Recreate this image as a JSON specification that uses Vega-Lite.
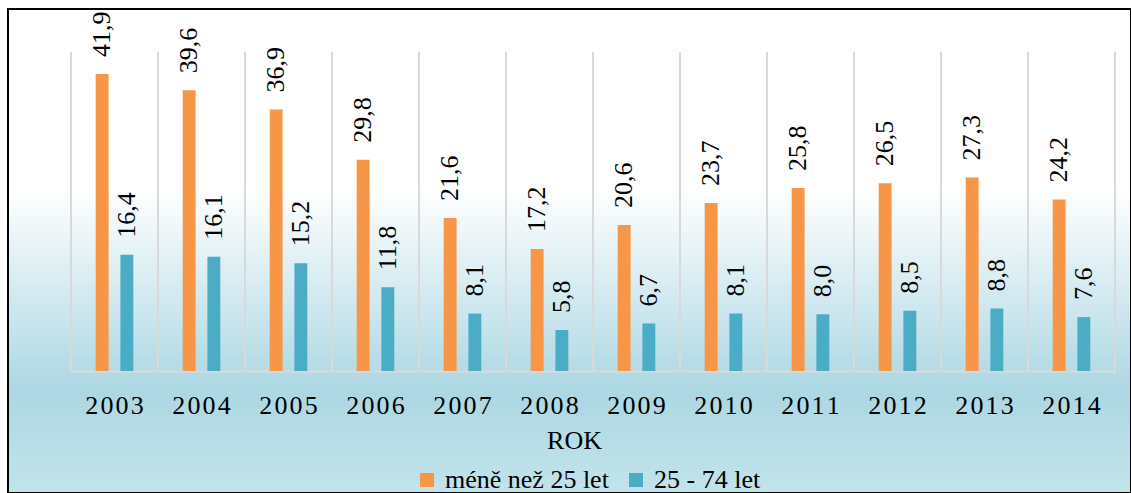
{
  "$schema": "https://vega.github.io/schema/vega-lite/v6.json",
  "width": 1123,
  "height": 484,
  "autosize": {"type": "none"},
  "padding": {"left": 8, "top": 9, "right": 0, "bottom": 0},
  "background": "#ffffff",
  "config": {
    "font": "'Liberation Serif', 'Times New Roman', serif",
    "view": {
      "stroke": "#000000", "strokeWidth": 2,
      "fill": {"gradient": "linear", "x1": 0, "y1": 0, "x2": 0, "y2": 1, "stops": [{"offset": 0, "color": "#ffffff"}, {"offset": 0.37, "color": "#ffffff"}, {"offset": 0.787, "color": "#acd7e3"}, {"offset": 1, "color": "#c2e4eb"}]}
    },
    "locale": {"number": {"decimal": ",", "thousands": " ", "grouping": [3], "currency": ["", ""]}}
  },
  "data": {"values": [
    {"rok": "2003", "skupina": "méně než 25 let", "hodnota": 41.9},
    {"rok": "2003", "skupina": "25 - 74 let", "hodnota": 16.4},
    {"rok": "2004", "skupina": "méně než 25 let", "hodnota": 39.6},
    {"rok": "2004", "skupina": "25 - 74 let", "hodnota": 16.1},
    {"rok": "2005", "skupina": "méně než 25 let", "hodnota": 36.9},
    {"rok": "2005", "skupina": "25 - 74 let", "hodnota": 15.2},
    {"rok": "2006", "skupina": "méně než 25 let", "hodnota": 29.8},
    {"rok": "2006", "skupina": "25 - 74 let", "hodnota": 11.8},
    {"rok": "2007", "skupina": "méně než 25 let", "hodnota": 21.6},
    {"rok": "2007", "skupina": "25 - 74 let", "hodnota": 8.1},
    {"rok": "2008", "skupina": "méně než 25 let", "hodnota": 17.2},
    {"rok": "2008", "skupina": "25 - 74 let", "hodnota": 5.8},
    {"rok": "2009", "skupina": "méně než 25 let", "hodnota": 20.6},
    {"rok": "2009", "skupina": "25 - 74 let", "hodnota": 6.7},
    {"rok": "2010", "skupina": "méně než 25 let", "hodnota": 23.7},
    {"rok": "2010", "skupina": "25 - 74 let", "hodnota": 8.1},
    {"rok": "2011", "skupina": "méně než 25 let", "hodnota": 25.8},
    {"rok": "2011", "skupina": "25 - 74 let", "hodnota": 8.0},
    {"rok": "2012", "skupina": "méně než 25 let", "hodnota": 26.5},
    {"rok": "2012", "skupina": "25 - 74 let", "hodnota": 8.5},
    {"rok": "2013", "skupina": "méně než 25 let", "hodnota": 27.3},
    {"rok": "2013", "skupina": "25 - 74 let", "hodnota": 8.8},
    {"rok": "2014", "skupina": "méně než 25 let", "hodnota": 24.2},
    {"rok": "2014", "skupina": "25 - 74 let", "hodnota": 7.6}
  ]},
  "encoding": {
    "x": {
      "field": "rok", "type": "nominal",
      "scale": {"paddingInner": 0, "paddingOuter": 0, "range": [63, 1107]},
      "axis": {
        "offset": -122,
        "grid": false,
        "ticks": false, "tickSize": 0,
        "domainColor": "#d9d9d9", "domainWidth": 2,
        "labelAngle": 0, "labelFont": "'Liberation Serif', 'Times New Roman', serif", "labelFontSize": 26, "labelColor": "#000000",
        "labelPadding": 21,
        "labelExpr": "join(split(datum.label, ''), '\u200a')",
        "title": "ROK", "titleFont": "'Liberation Serif', 'Times New Roman', serif", "titleFontSize": 26, "titleFontWeight": "normal", "titleColor": "#000000",
        "titleX": 566, "titleY": 77, "titleBaseline": "alphabetic", "titleAlign": "center"
      }
    },
    "y": {
      "field": "hodnota", "type": "quantitative",
      "scale": {"domain": [0, 45], "nice": false, "range": [362, 43]},
      "axis": null
    }
  },
  "layer": [
    {
      "mark": {"type": "rule", "color": "#d9d9d9", "strokeWidth": 2},
      "encoding": {
        "x": {"field": "rok", "type": "nominal", "bandPosition": 0},
        "y": {"datum": 0},
        "y2": {"datum": 45}
      }
    },
    {
      "transform": [{"filter": "datum.rok == '2014'"}],
      "mark": {"type": "rule", "color": "#d9d9d9", "strokeWidth": 2},
      "encoding": {
        "x": {"field": "rok", "type": "nominal", "bandPosition": 1},
        "y": {"datum": 0},
        "y2": {"datum": 45}
      }
    },
    {
      "mark": {"type": "bar"},
      "encoding": {
        "xOffset": {
          "field": "skupina", "type": "nominal",
          "sort": ["méně než 25 let", "25 - 74 let"],
          "scale": {"paddingInner": 0.478, "paddingOuter": 1.13}
        },
        "color": {
          "field": "skupina", "type": "nominal",
          "scale": {"domain": ["méně než 25 let", "25 - 74 let"], "range": ["#F79646", "#4BACC6"]},
          "legend": {
            "title": null, "orient": "none", "direction": "horizontal",
            "legendX": 406, "legendY": 458, "padding": 0,
            "symbolType": "square", "symbolSize": 196, "symbolStrokeWidth": 0, "symbolOpacity": 1,
            "labelFont": "'Liberation Serif', 'Times New Roman', serif", "labelFontSize": 26, "labelColor": "#000000",
            "labelOffset": 5, "columnPadding": 14, "labelLimit": 0
          }
        }
      }
    },
    {
      "mark": {"type": "text", "angle": 270, "align": "left", "baseline": "middle", "dx": 17, "font": "'Liberation Serif', 'Times New Roman', serif", "fontSize": 26, "color": "#000000"},
      "encoding": {
        "xOffset": {
          "field": "skupina", "type": "nominal",
          "sort": ["méně než 25 let", "25 - 74 let"],
          "scale": {"paddingInner": 0.478, "paddingOuter": 1.13}
        },
        "size": {"value": 26},
        "text": {"field": "hodnota", "type": "quantitative", "format": ".1f"}
      }
    }
  ]
}
